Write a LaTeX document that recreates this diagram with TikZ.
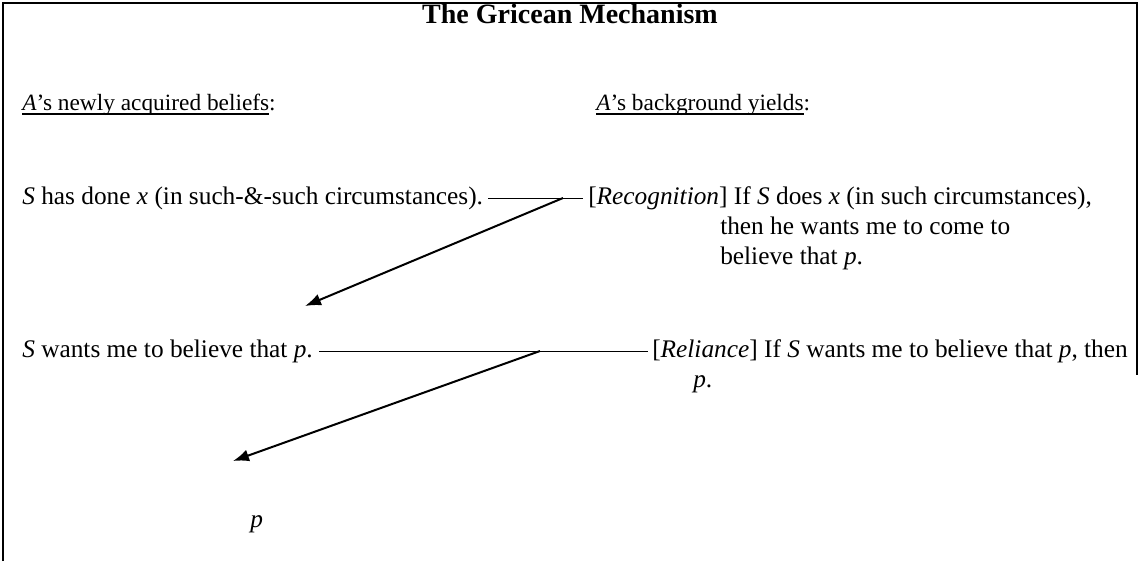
\documentclass[tikz,border=0pt]{standalone}
\usepackage{fontspec}
\setmainfont{Liberation Serif}
\usetikzlibrary{arrows.meta,calc}

\newcommand{\ulhead}[1]{\setbox0\hbox{#1}\rlap{\rule[-0.2em]{\wd0}{0.9pt}}\box0}

\begin{document}
\begin{tikzpicture}[
  x=0.75pt, y=-0.75pt,
  txt/.style={anchor=base west, inner sep=0pt, font=\fontsize{19}{25}\selectfont},
  head/.style={txt, font=\fontsize{17.5}{23}\selectfont},
  link/.style={line width=0.6pt},
  infer/.style={-{Latex[length=12pt,width=9pt]}, line width=1.5pt},
  frame/.style={line width=1.4pt}
]
\useasboundingbox (0,0) rectangle (1141,561);

% frame, open at the bottom
\draw[frame] (3,561) -- (3,3) -- (1137,3) -- (1137,375);

\node[txt, anchor=base, font=\fontsize{21}{25}\selectfont\bfseries] (title) at (570,23) {The Gricean Mechanism};

% column heads
\node[head] (newhead) at (22,110) {\ulhead{\textit{A}’s newly acquired beliefs}:};
\node[head] (bghead) at (596,110) {\ulhead{\textit{A}’s background yields}:};

% first step
\node[txt] (done) at (22,204) {\textit{S} has done \textit{x} (in such-\&-such circumstances).};
\node[txt] (recog) at (588,204) {[\textit{Recognition}] If \textit{S} does \textit{x} (in such circumstances),};
\node[txt] (recog2) at (720,234) {then he wants me to come to};
\node[txt] (recog3) at (720,264) {believe that \textit{p}.};

% second step
\node[txt] (wants) at (22,357) {\textit{S} wants me to believe that \textit{p}.};
\node[txt] (rely) at (652,357) {[\textit{Reliance}] If \textit{S} wants me to believe that \textit{p}, then};
\node[txt] (rely2) at (693,387) {\textit{p}.};

% conclusion
\node[txt] (concl) at (250,527) {\textit{p}};

% links between beliefs and background
\draw[link] ($(done.base east)+(5,-6)$) -- ($(recog.base west)+(-5,-6)$);
\draw[link] ($(wants.base east)+(6,-6)$) -- ($(rely.base west)+(-4,-6)$);

\coordinate (k1) at (563,198);
\coordinate (t1) at (305,306);
\coordinate (k2) at (540,351);
\coordinate (t2) at (233,461);

\draw[infer] (k1) -- (t1);
\draw[infer] (k2) -- (t2);
\end{tikzpicture}
\end{document}
